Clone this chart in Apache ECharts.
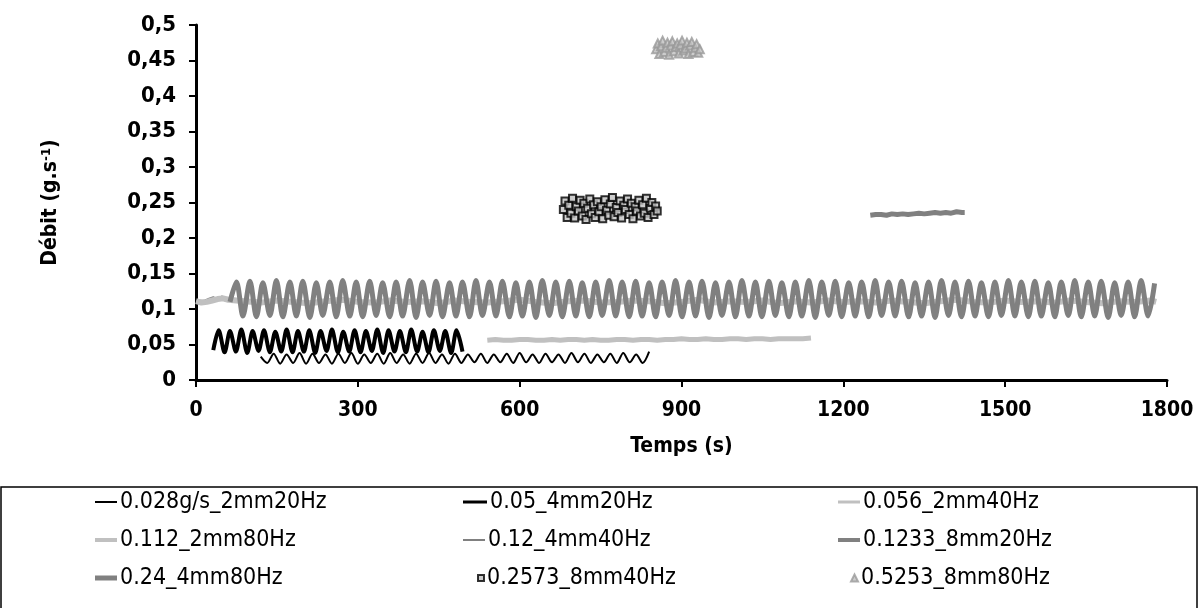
<!DOCTYPE html>
<html>
<head>
<meta charset="utf-8">
<script src="https://cdn.jsdelivr.net/npm/echarts@6/dist/echarts.min.js"></script>
<style>
html,body{margin:0;padding:0;background:#fff;}
#chart{width:1200px;height:608px;}
</style>
</head>
<body>
<div id="chart"></div>
<script>
// ---------- data ----------
const seriesNames = ['0.028g/s_2mm20Hz','0.05_4mm20Hz','0.056_2mm40Hz','0.112_2mm80Hz','0.12_4mm40Hz','0.1233_8mm20Hz','0.24_4mm80Hz','0.2573_8mm40Hz','0.5253_8mm80Hz'];

// 0.028g/s_2mm20Hz (thin black)
const t028 = [120,132,144,156,168,180,192,204,216,228,240,252,264,276,288,300,312,324,336,348,360,372,384,396,408,420,432,444,456,468,480,492,504,516,528,540,552,564,576,588,600,612,624,636,648,660,672,684,696,708,720,732,744,756,768,780,792,804,816,828,840];
const v028 = [0.033,0.024,0.037,0.023,0.036,0.024,0.038,0.023,0.037,0.024,
0.036,0.023,0.037,0.024,0.038,0.023,0.036,0.024,0.037,0.023,
0.038,0.024,0.036,0.023,0.037,0.024,0.038,0.024,0.036,0.023,
0.037,0.024,0.036,0.025,0.037,0.024,0.036,0.025,0.037,0.024,
0.038,0.025,0.036,0.024,0.037,0.025,0.036,0.024,0.038,0.025,
0.037,0.024,0.036,0.025,0.037,0.024,0.038,0.025,0.036,0.024,0.040];

// 0.05_4mm20Hz (thick black)
const t05 = [32,42,53,63,74,84,95,105,116,126,137,147,158,168,179,189,200,210,221,231,242,252,263,273,284,294,305,315,326,336,347,357,368,378,389,399,410,420,431,441,452,462,473,483,494];
const v05 = [0.042,0.070,0.039,0.069,0.040,0.071,0.038,0.069,0.041,0.070,
0.039,0.068,0.040,0.071,0.039,0.069,0.040,0.070,0.038,0.069,
0.041,0.071,0.039,0.068,0.040,0.070,0.039,0.069,0.041,0.071,
0.038,0.070,0.040,0.069,0.039,0.071,0.040,0.068,0.039,0.070,
0.041,0.069,0.038,0.070,0.040];

// 0.056_2mm40Hz (light grey)
const t056 = [540,555,570,585,600,615,630,645,660,675,690,705,720,735,750,765,780,795,810,825,840,855,870,885,900,915,930,945,960,975,990,1005,1020,1035,1050,1065,1080,1095,1110,1125,1140];
const v056 = [0.056,0.057,0.056,0.056,0.057,0.057,0.056,0.056,0.057,0.056,
0.057,0.057,0.056,0.057,0.056,0.056,0.057,0.057,0.056,0.057,
0.057,0.056,0.057,0.057,0.058,0.057,0.057,0.058,0.057,0.057,
0.058,0.058,0.057,0.058,0.058,0.057,0.058,0.058,0.058,0.058,0.059];

// 0.112_2mm80Hz (light grey, thick)
const t112 = [0,10,20,30,40,50,60,90,120,150,180,210,240,270,300,330,360,390,420,450,480,510,540,570,600,630,660,690,720,750,780,810,840,870,900,930,960,990,1020,1050,1080,1110,1140,1170,1200,1230,1260,1290,1320,1350,1380,1410,1440,1470,1500,1530,1560,1590,1620,1650,1680,1710,1740,1770,1780];
const v112 = [0.111,0.109,0.110,0.112,0.114,0.115,0.113,
0.111,0.109,0.112,0.110,0.108,0.111,0.113,0.110,0.109,0.112,
0.110,0.111,0.108,0.112,0.110,0.109,0.111,0.113,0.110,0.108,
0.111,0.112,0.109,0.110,0.112,0.111,0.108,0.110,0.113,0.109,
0.111,0.110,0.112,0.108,0.111,0.109,0.112,0.110,0.111,0.109,
0.112,0.110,0.108,0.111,0.113,0.110,0.109,0.112,0.110,0.111,
0.109,0.112,0.110,0.108,0.111,0.110,0.112,0.110];

// 0.12_4mm40Hz (thin grey, mostly hidden)
const t12 = [0,8,16,24,32,40,48,56];
const v12 = [0.111,0.112,0.112,0.115,0.117,0.114,0.118,0.116];

// 0.1233_8mm20Hz (thick mid grey wave)
const t1233 = [63,75,87,100,112,124,137,149,161,174,186,198,211,223,235,248,260,272,285,297,309,322,334,346,359,371,383,396,408,420,433,445,457,470,482,494,507,519,531,544,556,568,581,593,605,618,630,642,655,667,679,692,704,716,729,741,753,766,778,790,803,815,827,840,852,864,877,889,901,914,926,938,951,963,975,988,1000,1012,1025,1037,1049,1062,1074,1086,1099,1111,1123,1136,1148,1160,1173,1185,1197,1210,1222,1234,1247,1259,1271,1284,1296,1308,1321,1333,1345,1358,1370,1382,1395,1407,1419,1432,1444,1456,1469,1481,1493,1506,1518,1530,1543,1555,1567,1580,1592,1604,1617,1629,1641,1654,1666,1678,1691,1703,1715,1728,1740,1752,1765,1777];
const v1233 = [0.110,
0.138,0.090,0.139,0.089,0.137,0.091,0.140,0.089,0.138,0.090,0.139,0.088,0.137,0.091,0.138,0.089,0.140,0.090,0.138,0.089,
0.139,0.091,0.137,0.089,0.138,0.090,0.140,0.088,0.138,0.091,0.139,0.089,0.137,0.090,0.138,0.089,0.140,0.091,0.138,0.090,
0.139,0.089,0.137,0.090,0.138,0.088,0.140,0.091,0.138,0.089,0.139,0.090,0.137,0.089,0.138,0.091,0.140,0.090,0.138,0.089,
0.139,0.090,0.137,0.089,0.138,0.091,0.140,0.089,0.138,0.090,0.139,0.088,0.137,0.091,0.138,0.089,0.140,0.090,0.138,0.089,
0.139,0.091,0.137,0.089,0.138,0.090,0.140,0.088,0.138,0.091,0.139,0.089,0.137,0.090,0.138,0.089,0.140,0.091,0.138,0.090,
0.139,0.089,0.137,0.090,0.138,0.088,0.140,0.091,0.138,0.089,0.139,0.090,0.137,0.089,0.138,0.091,0.140,0.090,0.138,0.089,
0.139,0.090,0.137,0.089,0.138,0.091,0.140,0.089,0.138,0.090,0.139,0.088,0.137,0.091,0.138,0.089,0.140,0.090,
0.136];

// 0.24_4mm80Hz (mid grey)
const t24 = [1250,1260,1270,1280,1290,1300,1310,1320,1330,1340,1350,1360,1370,1380,1390,1400,1410,1420,1425];
const v24 = [0.232,0.233,0.233,0.232,0.234,0.233,0.234,0.233,0.234,0.235,0.234,0.235,0.236,0.235,0.236,0.235,0.237,0.236,0.236];

// 0.2573_8mm40Hz (square markers)
const tSq = [681,684,688,691,695,698,702,705,709,712,716,719,723,726,730,733,737,740,744,747,751,754,758,761,765,768,772,775,779,782,786,789,793,796,800,803,807,810,814,817,821,824,828,831,835,838,842,845,849,852,855];
const vSq = [0.240,0.252,0.229,0.246,0.235,0.256,0.228,0.244,0.238,0.253,
0.231,0.249,0.226,0.242,0.255,0.234,0.247,0.229,0.251,0.237,
0.244,0.227,0.254,0.239,0.232,0.248,0.257,0.230,0.243,0.236,
0.252,0.228,0.246,0.240,0.255,0.233,0.249,0.227,0.244,0.238,
0.253,0.231,0.247,0.235,0.256,0.229,0.242,0.250,0.233,0.245,0.238];

// 0.5253_8mm80Hz (triangle markers)
const tTr = [853,856,859,862,865,868,871,874,877,880,883,886,889,892,895,898,901,904,907,910,913,916,919,922,925,928,931,934];
const vTr = [0.466,0.474,0.459,0.470,0.478,0.462,0.468,0.475,0.458,0.471,
0.477,0.463,0.469,0.474,0.460,0.472,0.478,0.464,0.467,0.475,
0.459,0.471,0.476,0.462,0.468,0.473,0.461,0.466];

const xTicks = {min: 0, max: 1800, interval: 300};
const yTicks = {min: 0, max: 0.5, interval: 0.05};

// ---------- chart ----------
const zip = (t, v) => t.map((x, i) => [x, v[i]]);
const FONT = 'DejaVu Sans Condensed';
const BLACK = '#000000', LIGHT = '#c0c0c0', MID = '#808080';

function lineSeries(name, t, v, color, width, smooth, z) {
  return {
    name, type: 'line', data: zip(t, v), symbol: 'none', showSymbol: false,
    smooth: smooth, z: z,
    lineStyle: {color, width}, itemStyle: {color},
    animation: false, silent: true
  };
}

const series = [
  lineSeries(seriesNames[0], t028, v028, BLACK, 2, 0.3, 3),
  lineSeries(seriesNames[1], t05, v05, BLACK, 4, 0.3, 3),
  lineSeries(seriesNames[2], t056, v056, LIGHT, 5, false, 3),
  lineSeries(seriesNames[3], t112, v112, LIGHT, 6, false, 3),
  lineSeries(seriesNames[4], t12, v12, MID, 1.5, false, 1),
  lineSeries(seriesNames[5], t1233, v1233, MID, 5, 0.3, 3),
  lineSeries(seriesNames[6], t24, v24, MID, 5, false, 3),
  {
    name: seriesNames[7], type: 'scatter', data: zip(tSq, vSq), symbol: 'rect', symbolSize: 7,
    itemStyle: {color: '#c0c0c0', borderColor: '#000', borderWidth: 2}, z: 4, animation: false, silent: true
  },
  {
    name: seriesNames[8], type: 'scatter', data: zip(tTr, vTr), symbol: 'triangle', symbolSize: 8,
    itemStyle: {color: '#c0c0c0', borderColor: '#9a9a9a', borderWidth: 2}, z: 4, animation: false, silent: true
  }
];

// legend layout: one legend per entry (column x, row y, icon)
const legendCols = [95, 463, 838];
const legendRows = [489, 527, 565];
const legendSpec = [
  {col: 0, row: 0, icon: 'rect', w: 22, h: 2},
  {col: 1, row: 0, icon: 'rect', w: 24, h: 3},
  {col: 2, row: 0, icon: 'rect', w: 22, h: 3},
  {col: 0, row: 1, icon: 'rect', w: 22, h: 4},
  {col: 1, row: 1, icon: 'rect', w: 22, h: 2},
  {col: 2, row: 1, icon: 'rect', w: 22, h: 4},
  {col: 0, row: 2, icon: 'rect', w: 22, h: 5},
  {col: 1, row: 2, icon: 'rect', w: 6, h: 6, dx: 14},
  {col: 2, row: 2, icon: 'triangle', w: 7, h: 7, dx: 12}
];
const legends = legendSpec.map((s, i) => ({
  left: legendCols[s.col] + (s.dx || 0), top: legendRows[s.row],
  orient: 'horizontal', itemWidth: s.w, itemHeight: s.h, itemGap: 5,
  padding: 0, selectedMode: false,
  textStyle: {fontFamily: FONT, fontSize: 23, color: '#000', lineHeight: 26, padding: [0, 0, 0, -2]},
  data: [{name: seriesNames[i], icon: s.icon}]
}));

const option = {
  backgroundColor: '#fff',
  animation: false,
  grid: {left: 196, right: 33, top: 25, bottom: 228, containLabel: false},
  xAxis: {
    type: 'value', min: xTicks.min, max: xTicks.max, interval: xTicks.interval,
    name: 'Temps (s)', nameLocation: 'middle', nameGap: 56,
    nameTextStyle: {fontFamily: FONT, fontWeight: 'bold', fontSize: 21, color: '#000'},
    axisLine: {show: true, lineStyle: {color: '#000', width: 3}},
    axisTick: {show: true, length: 7, lineStyle: {color: '#000', width: 2}},
    axisLabel: {margin: 20, fontFamily: FONT, fontWeight: 'bold', fontSize: 21, color: '#000',
      formatter: v => String(v)},
    splitLine: {show: false}
  },
  yAxis: {
    type: 'value', min: yTicks.min, max: yTicks.max, interval: yTicks.interval,
    name: 'Débit (g.s{sup|-1})', nameLocation: 'middle', nameGap: 135, nameRotate: 90,
    nameTextStyle: {fontFamily: FONT, fontWeight: 'bold', fontSize: 21, color: '#000',
      rich: {sup: {fontFamily: FONT, fontWeight: 'bold', fontSize: 13, verticalAlign: 'top', color: '#000'}}},
    axisLine: {show: true, lineStyle: {color: '#000', width: 3}},
    axisTick: {show: true, length: 7, lineStyle: {color: '#000', width: 2}},
    axisLabel: {margin: 20, fontFamily: FONT, fontWeight: 'bold', fontSize: 22, color: '#000',
      formatter: v => String(Number(v.toFixed(2))).replace('.', ',')},
    splitLine: {show: false}
  },
  legend: legends,
  graphic: [{
    type: 'rect', shape: {x: 1, y: 487, width: 1196, height: 140},
    style: {fill: 'none', stroke: '#000', lineWidth: 1.5}, silent: true, z: 0
  }],
  series
};

const chart = echarts.init(document.getElementById('chart'), null, {renderer: 'canvas'});
chart.setOption(option);
</script>
</body>
</html>
